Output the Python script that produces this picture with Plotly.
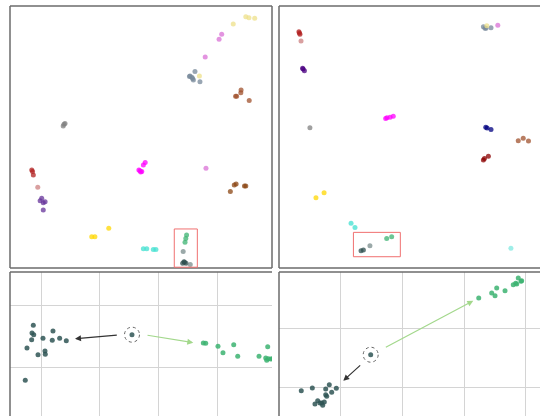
import plotly.graph_objects as go

# ---------------- data: top-left overview ----------------
TL_GROUPS = ["khaki", "orchid", "slategray", "sienna", "gray", "firebrick", "rosy",
             "purple", "fuchsia", "saddlebrown", "gold", "turquoise", "green",
             "darkslate", "lightgray"]
TL_COLORS = ["#eee08a", "#da70d6", "#778899", "#a0522d", "#808080", "#b22222", "#cc8080",
             "#663399", "#ff00ff", "#8b4513", "#ffd700", "#40e0d0", "#3cb371",
             "#2f4f4f", "#7a8c8c"]
TL_X = [[9.00, 9.12, 9.34, 8.52, 7.23],
        [8.08, 7.98, 7.45, 7.48],
        [6.94, 7.00, 7.06, 7.25, 6.87, 6.85, 6.97],
        [8.82, 8.81, 8.61, 8.65, 9.13],
        [2.10, 2.03, 2.06],
        [0.83, 0.89, 0.86],
        [1.06],
        [1.21, 1.27, 1.15, 1.34, 1.27],
        [4.96, 5.03, 4.92, 5.09, 5.16, 4.99],
        [8.56, 8.63, 9.00, 8.95, 8.41],
        [3.12, 3.24, 3.77],
        [5.09, 5.22, 5.47, 5.57],
        [6.74, 6.71, 6.68],
        [6.64, 6.59, 6.72, 6.66],
        [6.61, 6.88]]
TL_Y = [[9.59, 9.55, 9.53, 9.31, 7.33],
        [8.92, 8.73, 8.05, 3.81],
        [7.28, 7.18, 7.50, 7.11, 7.33, 7.31, 7.23],
        [6.79, 6.69, 6.56, 6.56, 6.39],
        [5.52, 5.42, 5.49],
        [3.74, 3.55, 3.68],
        [3.08],
        [2.66, 2.49, 2.57, 2.53, 2.21],
        [3.71, 3.68, 3.74, 3.93, 4.03, 3.66],
        [3.17, 3.21, 3.13, 3.13, 2.92],
        [1.19, 1.19, 1.52],
        [0.73, 0.73, 0.71, 0.71],
        [1.26, 1.13, 0.98],
        [0.24, 0.18, 0.18, 0.22],
        [0.63, 0.13]]
TL_BOX = [6.27, 7.15, 0.03, 1.49]

# ---------------- data: top-right overview ----------------
TR_GROUPS = ["firebrick", "rosy", "indigo", "slategray", "orchid", "khaki", "fuchsia",
             "gray", "navy", "sienna", "maroon", "gold", "turquoise", "green",
             "darkslate", "lightgray", "paleturquoise"]
TR_COLORS = ["#b22222", "#cc8080", "#4b0082", "#778899", "#da70d6", "#eee08a", "#ff00ff",
             "#808080", "#000080", "#a0522d", "#8b0000", "#ffd700", "#40e0d0", "#3cb371",
             "#2f4f4f", "#7a8c8c", "#7fe8e0"]
TR_X = [[0.76, 0.80, 0.78], [0.84], [0.90, 0.97, 0.92],
        [7.86, 7.80, 8.09, 7.90], [8.35], [7.93],
        [4.07, 4.12, 4.24, 4.36], [1.18], [7.89, 8.09, 7.94],
        [9.13, 9.32, 9.52], [7.80, 7.99, 7.84], [1.41, 1.72],
        [2.75, 2.90], [4.11, 4.30], [3.13, 3.22], [3.47], [8.85]]
TR_Y = [[9.02, 8.92, 8.97], [8.66], [7.62, 7.53, 7.60],
        [9.15, 9.21, 9.17, 9.15], [9.27], [9.25],
        [5.71, 5.73, 5.75, 5.79], [5.35], [5.37, 5.29, 5.34],
        [4.86, 4.95, 4.85], [4.12, 4.27, 4.18], [2.68, 2.87],
        [1.71, 1.55], [1.13, 1.19], [0.66, 0.69], [0.85], [0.75]]
TR_BOX = [2.84, 4.63, 0.43, 1.36]

# ---------------- data: bottom-left zoom ----------------
BL_DARK_X = [0.864, 0.842, 0.871, 0.836, 0.756, 1.029, 1.199, 1.187, 1.313, 1.426,
             1.063, 1.068, 0.944, 0.727]
BL_DARK_Y = [1.676, 1.551, 1.524, 1.442, 1.308, 1.465, 1.583, 1.433, 1.465, 1.426,
             1.259, 1.206, 1.199, 0.784]
BL_GREEN_X = [3.760, 3.801, 4.010, 4.095, 4.278, 4.346, 4.709, 4.857, 4.823, 4.840,
              4.867, 4.908, 4.942]
BL_GREEN_Y = [1.389, 1.384, 1.335, 1.232, 1.361, 1.173, 1.173, 1.329, 1.146, 1.109,
              1.135, 1.130, 1.135]
BL_CENTER = [2.545, 1.524]
BL_ARROW_DARK = [2.312, 1.519, 1.574, 1.459]
BL_ARROW_GREEN = [2.784, 1.519, 3.589, 1.394]

# ---------------- data: bottom-right zoom ----------------
BR_DARK_X = [0.361, 0.540, 0.757, 0.815, 0.929, 0.854, 0.757, 0.773, 0.627, 0.583,
             0.692, 0.734, 0.708, 0.665]
BR_DARK_Y = [0.937, 0.983, 0.966, 1.039, 0.978, 0.910, 0.869, 0.842, 0.767, 0.710,
             0.727, 0.744, 0.688, 0.727]
BR_GREEN_X = [3.237, 3.447, 3.528, 3.501, 3.663, 3.797, 3.836, 3.878, 3.922, 3.933, 3.853]
BR_GREEN_Y = [2.516, 2.601, 2.687, 2.555, 2.641, 2.743, 2.767, 2.857, 2.801, 2.811, 2.755]
BR_CENTER = [1.486, 1.550]
BR_ARROW_DARK = [1.340, 1.392, 1.042, 1.107]
BR_ARROW_GREEN = [1.707, 1.664, 3.149, 2.470]

W, H = 540, 416
BORDER = "#6b6b6b"
GRID = "#d4d4d4"

fig = go.Figure()

# overview panels
for groups, colors, xs, ys, ax in [(TL_GROUPS, TL_COLORS, TL_X, TL_Y, ""),
                                   (TR_GROUPS, TR_COLORS, TR_X, TR_Y, "2")]:
    for g, c, x, y in zip(groups, colors, xs, ys):
        fig.add_trace(go.Scatter(x=x, y=y, mode="markers", name=g,
                                 marker=dict(color=c, size=5, opacity=0.75, line=dict(width=0)),
                                 xaxis="x" + ax, yaxis="y" + ax, showlegend=False,
                                 cliponaxis=False))

# zoom panels
for dx, dy, gx, gy, ax in [(BL_DARK_X, BL_DARK_Y, BL_GREEN_X, BL_GREEN_Y, "3"),
                           (BR_DARK_X, BR_DARK_Y, BR_GREEN_X, BR_GREEN_Y, "4")]:
    fig.add_trace(go.Scatter(x=dx, y=dy, mode="markers", showlegend=False,
                             marker=dict(color="#2f5555", size=5, opacity=0.85, line=dict(width=0)),
                             xaxis="x" + ax, yaxis="y" + ax))
    fig.add_trace(go.Scatter(x=gx, y=gy, mode="markers", showlegend=False,
                             marker=dict(color="#3cb371", size=5, opacity=0.85, line=dict(width=0)),
                             xaxis="x" + ax, yaxis="y" + ax))
for c, ax in [(BL_CENTER, "3"), (BR_CENTER, "4")]:
    fig.add_trace(go.Scatter(x=[c[0]], y=[c[1]], mode="markers", showlegend=False,
                             marker=dict(color="#2f5555", size=5, opacity=0.85),
                             xaxis="x" + ax, yaxis="y" + ax))

def px2x(p):
    return p / W

def py2y(p):
    return 1 - p / H

dom_tl_x = [px2x(10), px2x(272)]
dom_tr_x = [px2x(279), 1.0]
dom_top_y = [py2y(268), py2y(6)]
dom_bot_y = [0.0, py2y(272)]

noax = dict(showgrid=False, zeroline=False, showticklabels=False, ticks="", showline=False)
gridax = dict(showgrid=True, gridcolor=GRID, gridwidth=1, dtick=1, tick0=0, zeroline=False,
              showticklabels=False, ticks="", showline=False)
fig.update_layout(
    width=W, height=H, margin=dict(l=0, r=0, t=0, b=0),
    paper_bgcolor="white", plot_bgcolor="white", showlegend=False,
    xaxis=dict(domain=dom_tl_x, range=[0, 10], **noax),
    yaxis=dict(domain=dom_top_y, range=[0, 10], **noax),
    xaxis2=dict(domain=dom_tr_x, range=[0, 9.96], **noax),
    yaxis2=dict(domain=dom_top_y, range=[0, 10], **noax),
    xaxis3=dict(domain=dom_tl_x, range=[0.467, 4.93], **gridax),
    yaxis3=dict(domain=dom_bot_y, range=[0.206, 2.54], **gridax),
    xaxis4=dict(domain=dom_tr_x, range=[0.0, 4.23], **gridax),
    yaxis4=dict(domain=dom_bot_y, range=[0.506, 2.959], **gridax),
)

shapes = []
def edge(xref, yref, x0, y0, x1, y1):
    shapes.append(dict(type="line", xref=xref, yref=yref, x0=x0, y0=y0, x1=x1, y1=y1,
                       line=dict(color=BORDER, width=1.5), layer="above"))

# borders: top-left full, top-right left/top/bottom, bottom panels left/top
edge("x domain", "y domain", 0, 0, 0, 1); edge("x domain", "y domain", 0, 1, 1, 1)
edge("x domain", "y domain", 1, 0, 1, 1); edge("x domain", "y domain", 0, 0, 1, 0)
edge("x2 domain", "y2 domain", 0, 0, 0, 1); edge("x2 domain", "y2 domain", 0, 1, 1, 1)
edge("x2 domain", "y2 domain", 0, 0, 1, 0)
edge("x3 domain", "y3 domain", 0, 0, 0, 1); edge("x3 domain", "y3 domain", 0, 1, 1, 1)
edge("x4 domain", "y4 domain", 0, 0, 0, 1); edge("x4 domain", "y4 domain", 0, 1, 1, 1)

# selection boxes
for box, ax in [(TL_BOX, ""), (TR_BOX, "2")]:
    shapes.append(dict(type="rect", xref="x" + ax, yref="y" + ax, x0=box[0], x1=box[1],
                       y0=box[2], y1=box[3], line=dict(color="#f07070", width=1)))

# dashed circles around centre points
for c, ax in [(BL_CENTER, "3"), (BR_CENTER, "4")]:
    shapes.append(dict(type="circle", xref="x" + ax, yref="y" + ax,
                       xsizemode="pixel", ysizemode="pixel", xanchor=c[0], yanchor=c[1],
                       x0=-7.5, x1=7.5, y0=-7.5, y1=7.5,
                       line=dict(color="#666666", width=1, dash="dot")))
fig.update_layout(shapes=shapes)

annotations = []
for arr, col, ax in [(BL_ARROW_DARK, "#333333", "3"), (BL_ARROW_GREEN, "#a3d88c", "3"),
                     (BR_ARROW_DARK, "#333333", "4"), (BR_ARROW_GREEN, "#a3d88c", "4")]:
    annotations.append(dict(x=arr[2], y=arr[3], ax=arr[0], ay=arr[1],
                            xref="x" + ax, yref="y" + ax, axref="x" + ax, ayref="y" + ax,
                            showarrow=True, arrowhead=2, arrowsize=1, arrowwidth=1.2,
                            arrowcolor=col, text=""))
fig.update_layout(annotations=annotations)

fig.write_html("out.html", config={"displayModeBar": False},
               post_script="document.body.style.margin='0px';"
                           "document.body.style.overflow='hidden';")
